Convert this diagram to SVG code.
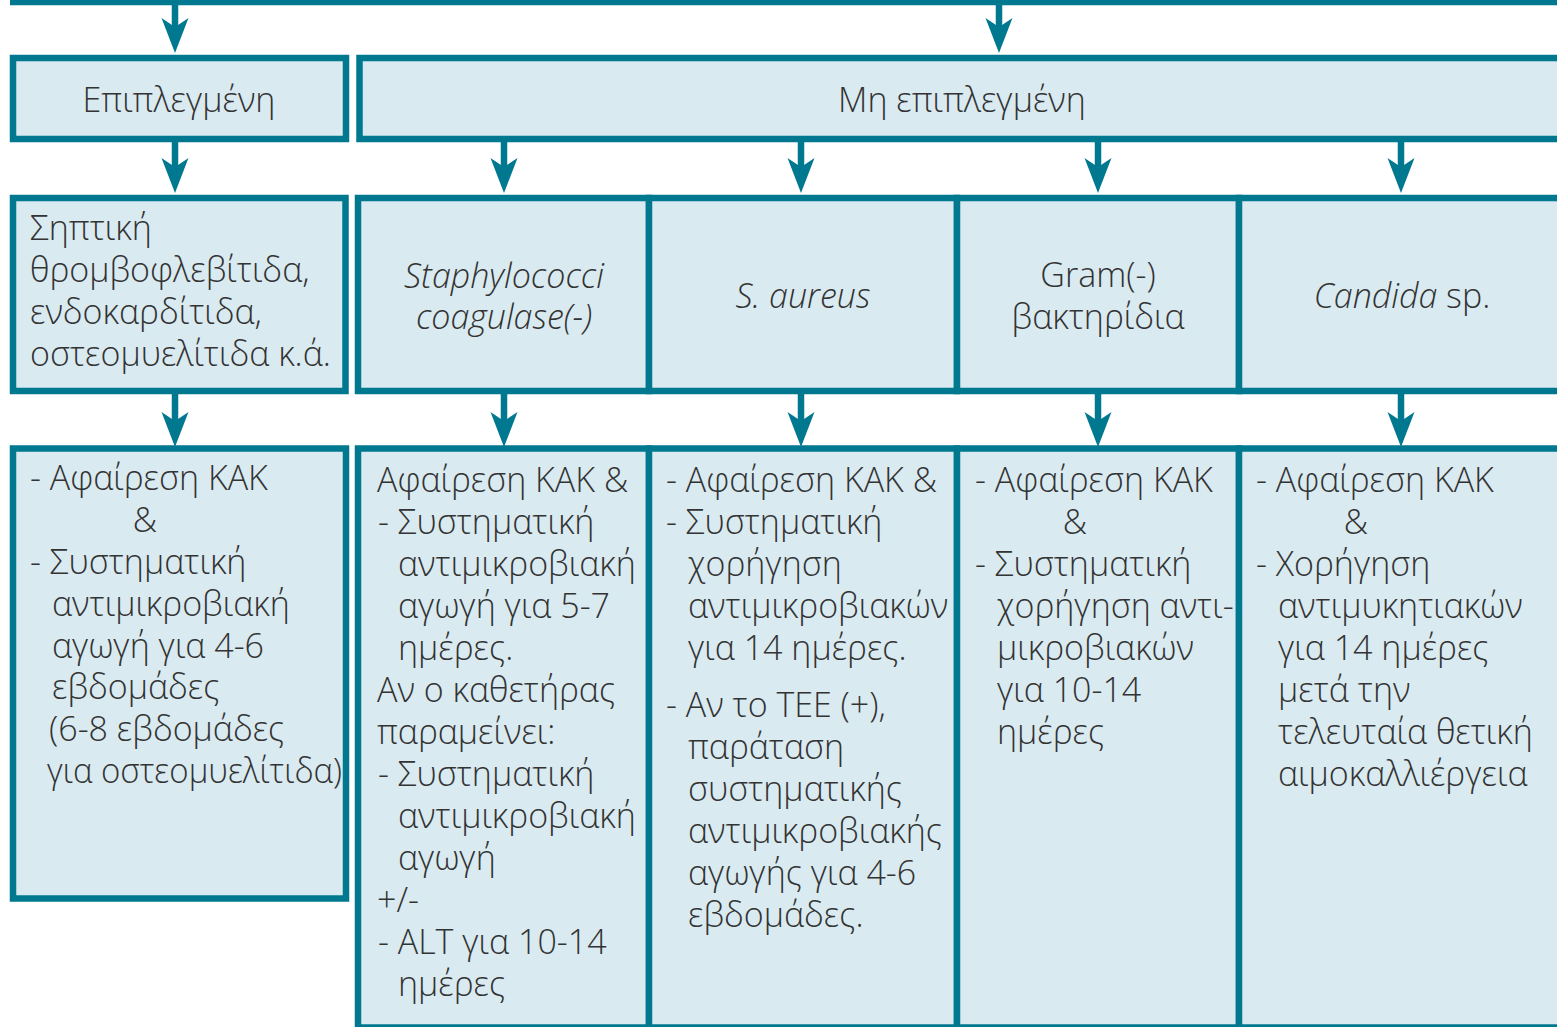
<svg xmlns="http://www.w3.org/2000/svg" width="1557" height="1027" viewBox="0 0 1557 1027">
<style>
.box{fill:#d9eaf1;stroke:#00788f;stroke-width:6.5}
.con{stroke:#00788f;stroke-width:6.5;fill:none}
text{font-family:"Open Sans","Noto Sans","DejaVu Sans",sans-serif;font-weight:300;font-size:34px;fill:#333333}
.c{text-anchor:middle}
.i{font-style:italic}
</style>
<defs>
<marker id="ah" markerUnits="userSpaceOnUse" viewBox="-16 -14 37 28" refX="0" refY="0" markerWidth="37" markerHeight="28" orient="auto" overflow="visible">
<path d="M20,0 L-15,-13.5 L-6,0 L-15,13.5 Z" fill="#00788f"/>
</marker>
</defs>
<rect width="1557" height="1027" fill="#ffffff"/>
<g id="connectors">
<line class="con" x1="10" y1="2" x2="1570" y2="2"/>
<line class="con" x1="175" y1="2" x2="175" y2="33" marker-end="url(#ah)"/>
<line class="con" x1="999" y1="2" x2="999" y2="33" marker-end="url(#ah)"/>
<line class="con" x1="175" y1="139" x2="175" y2="173" marker-end="url(#ah)"/>
<line class="con" x1="504" y1="139" x2="504" y2="173" marker-end="url(#ah)"/>
<line class="con" x1="801" y1="139" x2="801" y2="173" marker-end="url(#ah)"/>
<line class="con" x1="1098" y1="139" x2="1098" y2="173" marker-end="url(#ah)"/>
<line class="con" x1="1401" y1="139" x2="1401" y2="173" marker-end="url(#ah)"/>
<line class="con" x1="175" y1="391" x2="175" y2="427" marker-end="url(#ah)"/>
<line class="con" x1="504" y1="391" x2="504" y2="427" marker-end="url(#ah)"/>
<line class="con" x1="801" y1="391" x2="801" y2="427" marker-end="url(#ah)"/>
<line class="con" x1="1098" y1="391" x2="1098" y2="427" marker-end="url(#ah)"/>
<line class="con" x1="1401" y1="391" x2="1401" y2="427" marker-end="url(#ah)"/>
</g>
<g id="n-complicated">
<rect class="box" x="13" y="58" width="333" height="81"/>
<text class="c" x="179" y="112">Επιπλεγμένη</text>
</g>
<g id="n-uncomplicated">
<rect class="box" x="359.5" y="58" width="1220" height="81"/>
<text class="c" x="962" y="112">Μη επιπλεγμένη</text>
</g>
<g id="n-septic">
<rect class="box" x="13" y="198" width="332.5" height="193"/>
<text x="30" y="240">Σηπτική</text>
<text x="30" y="282">θρομβοφλεβίτιδα,</text>
<text x="30" y="324">ενδοκαρδίτιδα,</text>
<text x="30" y="366">οστεομυελίτιδα κ.ά.</text>
</g>
<g id="n-staph">
<rect class="box" x="358" y="198" width="291" height="193"/>
<text class="c i" x="504" y="288">Staphylococci</text>
<text class="c i" x="504" y="329">coagulase(-)</text>
</g>
<g id="n-aureus">
<rect class="box" x="649" y="198" width="308" height="193"/>
<text class="c i" x="803" y="308">S. aureus</text>
</g>
<g id="n-gram">
<rect class="box" x="957" y="198" width="282" height="193"/>
<text class="c" x="1098" y="287">Gram(-)</text>
<text class="c" x="1098" y="329">βακτηρίδια</text>
</g>
<g id="n-candida">
<rect class="box" x="1239" y="198" width="340" height="193"/>
<text class="c" x="1402" y="308"><tspan class="i">Candida</tspan> sp.</text>
</g>
<g id="t-complicated">
<rect class="box" x="13" y="448.5" width="333" height="450"/>
<text x="30" y="490">- Αφαίρεση ΚΑΚ</text>
<text class="c" x="145" y="532">&amp;</text>
<text x="30" y="574">- Συστηματική</text>
<text x="52" y="616">αντιμικροβιακή</text>
<text x="52" y="658">αγωγή για 4-6</text>
<text x="52" y="699">εβδομάδες</text>
<text x="49" y="741">(6-8 εβδομάδες</text>
<text x="47" y="783" textLength="295" lengthAdjust="spacingAndGlyphs">για οστεομυελίτιδα)</text>
</g>
<g id="t-staph">
<rect class="box" x="358" y="448.5" width="291" height="579"/>
<text x="377" y="492">Αφαίρεση ΚΑΚ &amp;</text>
<text x="378" y="534">- Συστηματική</text>
<text x="398" y="576">αντιμικροβιακή</text>
<text x="398" y="618">αγωγή για 5-7</text>
<text x="398" y="660">ημέρες.</text>
<text x="377" y="702">Αν ο καθετήρας</text>
<text x="377" y="744">παραμείνει:</text>
<text x="378" y="786">- Συστηματική</text>
<text x="398" y="828">αντιμικροβιακή</text>
<text x="398" y="870">αγωγή</text>
<text x="377" y="912">+/-</text>
<text x="378" y="954">- ALT για 10-14</text>
<text x="398" y="996">ημέρες</text>
</g>
<g id="t-aureus">
<rect class="box" x="649" y="448.5" width="308" height="579"/>
<text x="666" y="492">- Αφαίρεση ΚΑΚ &amp;</text>
<text x="666" y="534">- Συστηματική</text>
<text x="688" y="576">χορήγηση</text>
<text x="688" y="618">αντιμικροβιακών</text>
<text x="688" y="660">για 14 ημέρες.</text>
<text x="666" y="717">- Αν το TEE (+),</text>
<text x="688" y="759">παράταση</text>
<text x="688" y="801">συστηματικής</text>
<text x="688" y="843">αντιμικροβιακής</text>
<text x="688" y="885">αγωγής για 4-6</text>
<text x="688" y="927">εβδομάδες.</text>
</g>
<g id="t-gram">
<rect class="box" x="957" y="448.5" width="282" height="579"/>
<text x="975" y="492">- Αφαίρεση ΚΑΚ</text>
<text class="c" x="1075" y="534">&amp;</text>
<text x="975" y="576">- Συστηματική</text>
<text x="997" y="618">χορήγηση αντι-</text>
<text x="997" y="660">μικροβιακών</text>
<text x="997" y="702">για 10-14</text>
<text x="997" y="744">ημέρες</text>
</g>
<g id="t-candida">
<rect class="box" x="1239" y="448.5" width="340" height="579"/>
<text x="1256" y="492">- Αφαίρεση ΚΑΚ</text>
<text class="c" x="1356" y="534">&amp;</text>
<text x="1256" y="576">- Χορήγηση</text>
<text x="1278" y="618">αντιμυκητιακών</text>
<text x="1278" y="660">για 14 ημέρες</text>
<text x="1278" y="702">μετά την</text>
<text x="1278" y="744">τελευταία θετική</text>
<text x="1278" y="786">αιμοκαλλιέργεια</text>
</g>
</svg>
